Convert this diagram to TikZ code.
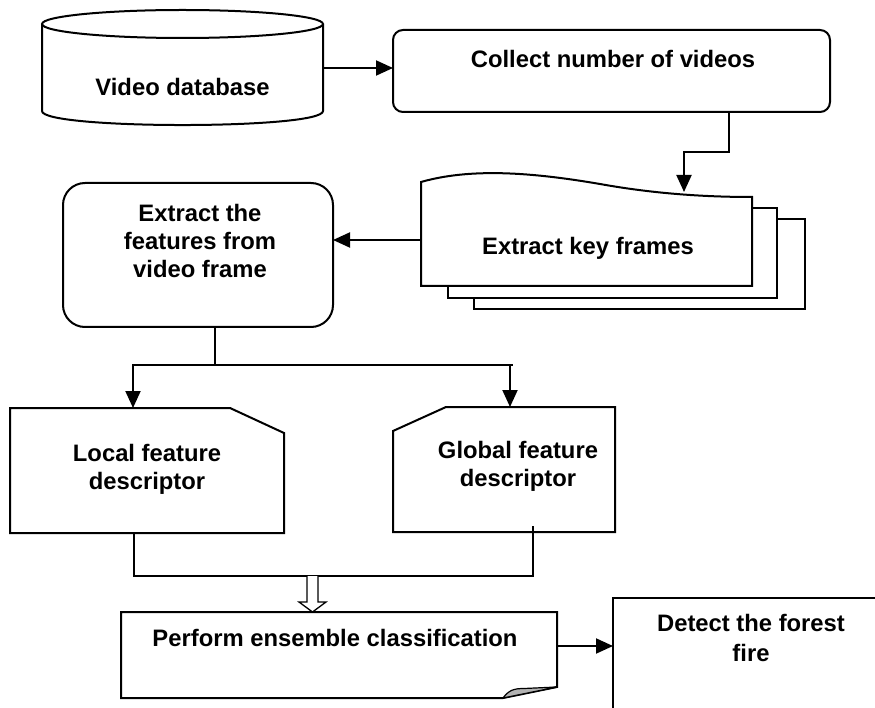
\documentclass[tikz,border=0pt]{standalone}
\usepackage{fontspec}
\setmainfont{Liberation Sans}
\usetikzlibrary{arrows.meta}
\begin{document}
\begin{tikzpicture}[x=1pt,y=-1pt, line width=2pt, line join=miter,
  lbl/.style={font=\fontsize{23.8}{28}\selectfont\bfseries, align=center, inner sep=0pt},
  conn/.style={-{Triangle[length=17pt,width=15pt]}},
  boxnode/.style={draw, fill=white, inner sep=0pt, outer sep=0pt},
  hollow/.style={line width=1.3pt, fill=white}]
\useasboundingbox (0,0) rectangle (875,708);
\clip (0,0) rectangle (875,708);

% Video database cylinder
\draw[fill=white] (42,24) -- (42,111) .. controls (42,129.7) and (323,129.7) .. (323,111) -- (323,24);
\draw (182.5,24) ellipse [x radius=140.5, y radius=14];
\node[lbl] (vdb) at (182.5,87) {Video database};
\coordinate (vdbout) at (323,68);

% Collect
\node[boxnode, rounded corners=10pt, minimum width=437pt, minimum height=82pt] (collect) at (611.5,71) {};
\node[lbl] (collectt) at (613,59) {Collect number of videos};
\draw[conn] (vdbout) -- (collect.west |- vdbout);

% Key frames stack
\draw[fill=white] (474,219) rectangle (805,309);
\draw[fill=white] (448,208) rectangle (777,298);
\draw[fill=white] (421,286) -- (421,182) .. controls (470,168) and (530,172) .. (600,184) .. controls (650,193) and (700,197) .. (752,197) -- (752,286) -- cycle;
\node[lbl] (kf) at (588,248) {Extract key frames};
\coordinate (kfin) at (684,192);
\coordinate (kfout) at (421,240);
\draw[conn] ([xshift=117.5pt]collect.south) -- ++(0,40) -| (kfin);

% Features
\node[boxnode, rounded corners=22pt, minimum width=270pt, minimum height=144pt] (feat) at (198,255) {};
\node[lbl] (featt) at (200,241) {Extract the\\features from\\video frame};
\draw[conn] (kfout) -- (feat.east |- kfout);

% Split
\coordinate (split) at (215,365);
\coordinate (locin) at (133,408);
\coordinate (gloin) at (510,407);
\draw (feat.south -| split) -- (split);
\draw (locin |- split) -- (513,365);
\draw[conn] (split) -| (locin);
\draw[conn] (split) -| (gloin);

% Local
\draw[fill=white] (10,408) -- (230,408) -- (284,433) -- (284,533) -- (10,533) -- cycle;
\node[lbl] (local) at (147,469) {Local feature\\descriptor};
% Global
\draw[fill=white] (393,431) -- (446,407) -- (615,407) -- (615,532) -- (393,532) -- cycle;
\node[lbl] (global) at (518,466) {Global feature\\descriptor};

% Merge
\coordinate (locout) at (134,533);
\coordinate (gloout) at (533,526);
\coordinate (merge) at (312.5,576);
\draw (locout) |- (gloout |- merge) -- (gloout);
\draw[hollow, shift={(merge)}] (-5.5,0) -- (-5.5,26) -- (-13.5,26) -- (0,36) -- (13.5,26) -- (5.5,26) -- (5.5,0);

% Perform
\draw[fill=white] (121,612) -- (557,612) -- (557,687) -- (503,698) -- (121,698) -- cycle;
\draw[fill=black!30, line width=1.2pt] (503,698) .. controls (509,690) and (514,688.5) .. (524,688.5) -- (557,687) -- cycle;
\node[lbl] (perf) at (335,638) {Perform ensemble classification};
\coordinate (perfout) at (557,646);

% Detect
\node[boxnode, minimum width=276pt, minimum height=140pt, anchor=north west] (detect) at (613,598) {};
\node[lbl] (detectt) at (751,638) {Detect the forest\\[2pt]fire};
\draw[conn] (perfout) -- (detect.west |- perfout);
\end{tikzpicture}
\end{document}
